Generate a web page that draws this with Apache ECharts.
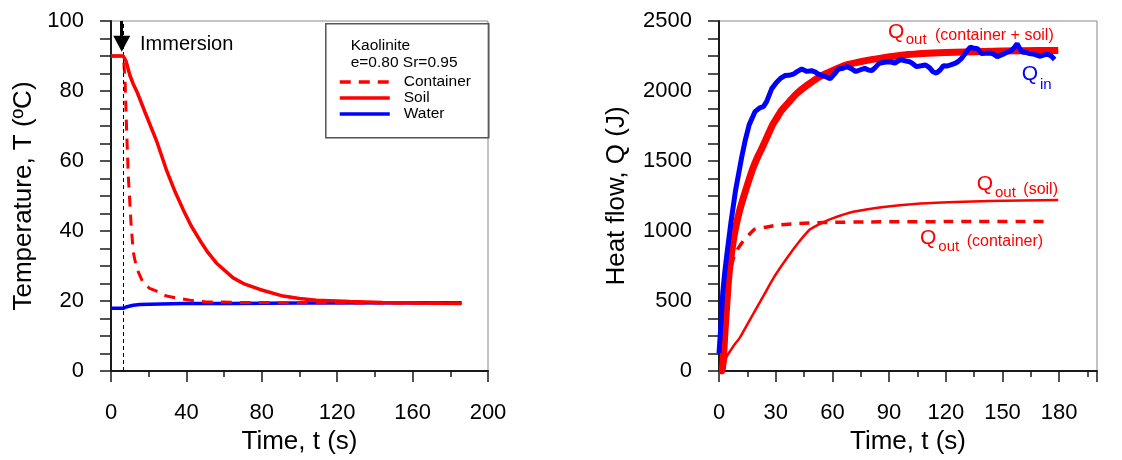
<!DOCTYPE html>
<html>
<head>
<meta charset="utf-8">
<script src="https://cdn.jsdelivr.net/npm/echarts@6/dist/echarts.min.js"></script>
<style>
html,body{margin:0;padding:0;background:#fff;}
#chart{width:1122px;height:460px;}
</style>
</head>
<body>
<div id="chart"></div>
<script>
// ---------- Left panel: temperature vs time ----------
var containerTemp = [[0,90],[6.5,90],[7.4,84],[8.3,68.5],[9.2,55.5],[10.6,42.4],[11.8,34],[13.6,29.4],[17.1,25.1],[20.5,23.6],[24.2,22.8],[29.5,21.4],[36.6,20.7],[41.9,20.2],[50,19.8],[65,19.6],[100,19.5],[140,19.45],[186,19.4]];
var soilTemp = [[0,90],[6.5,90],[8,88.5],[10,84.5],[11.8,82],[14,79.5],[18,74],[24.2,65.7],[29.5,57.3],[34,51.2],[38.3,46.1],[42.5,41.5],[47.2,37.3],[51.5,33.8],[56,30.8],[64.8,26.6],[71,24.8],[79,23.3],[91.3,21.4],[100,20.7],[109,20.2],[126.7,19.85],[144,19.6],[162,19.4],[186,19.3]];
var waterTemp = [[0,17.9],[6.5,17.9],[8,18.3],[11.8,18.8],[15.4,19.0],[20.7,19.1],[38.3,19.3],[63,19.3],[100,19.4],[186,19.5]];
var immersionTime = 6.4;

// ---------- Right panel: heat flow vs time ----------
var qIn = [[0,126],[1,330],[2,560],[3,700],[4.1,826],[6.3,1060],[8.8,1293],[12,1527],[13.8,1643],[16,1760],[19.1,1853],[21.5,1880],[23.5,1888],[25.2,1924],[27.9,2017],[30.5,2063],[32.5,2090],[34.9,2110],[37,2112],[39.3,2120],[41.5,2140],[43.8,2157],[46.5,2140],[49,2145],[51,2135],[52.6,2120],[56,2105],[58.8,2087],[61,2120],[63.2,2157],[65,2160],[67.7,2174],[70,2160],[72.4,2139],[74.5,2150],[77.1,2162],[79,2150],[80.9,2146],[82.5,2165],[84.7,2197],[87.5,2205],[90.4,2209],[93,2200],[96,2225],[98.5,2215],[100.8,2209],[102.5,2195],[104.6,2174],[107,2180],[109.3,2186],[111.5,2165],[113,2140],[115,2127],[117,2150],[118.8,2181],[120.5,2178],[122.6,2186],[124.5,2195],[126.4,2209],[128.5,2235],[130.2,2267],[131.5,2290],[133,2314],[135,2305],[136.8,2302],[138.7,2267],[141,2270],[143.5,2272],[145.5,2262],[147.2,2244],[149,2255],[151,2267],[153,2280],[154.8,2290],[156.5,2315],[157.7,2337],[159,2305],[160.5,2279],[162.5,2275],[164.3,2267],[167,2262],[170,2248],[172,2258],[173.8,2262],[175.8,2250],[177.6,2225]];
var qOutTotal = [[0,0],[1.5,0],[3.3,312],[5.1,661],[6.8,860],[8.6,1010],[10.8,1140],[13,1243],[15.5,1350],[18,1450],[20.5,1530],[23,1600],[25.7,1680],[28.4,1760],[30.7,1810],[33,1860],[36.8,1918],[41,1980],[46.5,2040],[53.5,2104],[60,2145],[67.5,2186],[77,2215],[85,2233],[100,2260],[120,2275],[140,2283],[160,2288],[179.5,2290]];
var qOutSoil = [[0,0],[1.8,0],[4.1,103],[7.5,175],[11.2,242],[15.5,345],[20,453],[24.5,560],[28.8,663],[33,750],[37.6,838],[42.5,925],[48.2,1012],[54,1055],[60,1090],[71,1137],[87,1172],[105,1195],[125,1207],[143,1214],[179.5,1221]];
var qOutContainer = [[0,0],[1.5,0],[3,400],[5.8,708],[8.5,838],[12.8,929],[16,975],[19,1013],[25.4,1029],[32.8,1045],[40,1052],[50,1058],[60,1062],[80,1065],[120,1067],[174.7,1067]];

var FONT = "'Liberation Sans', Arial, sans-serif";
var RED = '#ff0000', BLUE = '#0000ff', AX = '#1a1a1a';

function xAxisCfg(grid, interval, name, extra) {
  var c = {
    gridIndex: grid, type: 'value', min: 0, max: 200, interval: interval,
    name: name, nameLocation: 'middle', nameGap: 58,
    nameTextStyle: {fontSize: 26, color: '#000', fontFamily: FONT},
    axisLine: {show: true, lineStyle: {color: AX, width: 2}},
    axisTick: {show: true, inside: false, length: 11, lineStyle: {color: AX, width: 1.5}},
    minorTick: {show: true, splitNumber: 2, length: 6, lineStyle: {color: AX, width: 1.5}},
    splitLine: {show: false}, minorSplitLine: {show: false},
    axisLabel: {fontSize: 22, color: '#000', margin: 31, fontFamily: FONT}
  };
  if (extra) for (var k in extra) c.axisLabel[k] = extra[k];
  return c;
}
function yAxisCfg(grid, max, interval, labelEvery, name, gap) {
  return {
    gridIndex: grid, type: 'value', min: 0, max: max, interval: interval,
    name: name, nameLocation: 'middle', nameGap: gap,
    nameTextStyle: {fontSize: 26, color: '#000', fontFamily: FONT},
    axisLine: {show: true, lineStyle: {color: AX, width: 2}},
    axisTick: {show: true, inside: false, length: 11, lineStyle: {color: AX, width: 1.5}},
    splitLine: {show: false},
    axisLabel: {fontSize: 22, color: '#000', margin: 27, fontFamily: FONT,
      formatter: function (v) { return (Math.round(v) % labelEvery === 0) ? String(v) : ''; }}
  };
}

var chart = echarts.init(document.getElementById('chart'), null, {renderer: 'canvas'});
var option = {
  animation: false,
  backgroundColor: '#fff',
  textStyle: {fontFamily: FONT},
  grid: [
    {left: 111, top: 21, width: 377, height: 357, show: true, borderColor: '#888', borderWidth: 1, backgroundColor: 'transparent'},
    {left: 719, top: 21, width: 378, height: 357, show: true, borderColor: '#888', borderWidth: 1, backgroundColor: 'transparent'}
  ],
  xAxis: [
    xAxisCfg(0, 40, 'Time, t (s)'),
    xAxisCfg(1, 30, 'Time, t (s)', {showMaxLabel: false})
  ],
  yAxis: [
    yAxisCfg(0, 100, 5, 20, 'Temperature, T (ºC)', 74),
    yAxisCfg(1, 2500, 125, 500, 'Heat flow, Q (J)', 89)
  ],
  legend: {
    left: 338, top: 74, orient: 'vertical', padding: 0,
    itemWidth: 50, itemHeight: 16.5, itemGap: 0,
    data: ['Container', 'Soil', 'Water'],
    itemStyle: {color: 'rgba(0,0,0,0)', borderWidth: 0, opacity: 0},
    lineStyle: {width: 3.5},
    textStyle: {fontSize: 15.5, color: '#000', fontFamily: FONT, lineHeight: 14, padding: [0, 0, 0, 9]},
    selectedMode: false
  },
  graphic: [
    {type: 'rect', left: 323.3, top: 21.3, shape: {width: 163, height: 114}, style: {fill: 'none', stroke: '#555', lineWidth: 1.5}, z: 1},
    {type: 'text', left: 350.7, top: 38, style: {text: 'Kaolinite', fontSize: 15.5, fontFamily: FONT, fill: '#000'}},
    {type: 'text', left: 350.7, top: 55, style: {text: 'e=0.80 Sr=0.95', fontSize: 15.5, fontFamily: FONT, fill: '#000'}},
    {type: 'text', left: 140, top: 34, style: {text: 'Immersion', fontSize: 20, fontFamily: FONT, fill: '#000'}},
    // Q_out (container + soil)
    {type: 'text', left: 888, top: 21.5, style: {text: 'Q', fontSize: 21, fontFamily: FONT, fill: RED}},
    {type: 'text', left: 905.7, top: 32.5, style: {text: 'out', fontSize: 15, fontFamily: FONT, fill: RED}},
    {type: 'text', left: 935, top: 27.5, style: {text: '(container + soil)', fontSize: 16, fontFamily: FONT, fill: RED}},
    // Q_in
    {type: 'text', left: 1021.7, top: 64, style: {text: 'Q', fontSize: 21, fontFamily: FONT, fill: BLUE}},
    {type: 'text', left: 1040, top: 77.5, style: {text: 'in', fontSize: 15, fontFamily: FONT, fill: BLUE}},
    // Q_out (soil)
    {type: 'text', left: 976.7, top: 174, style: {text: 'Q', fontSize: 21, fontFamily: FONT, fill: RED}},
    {type: 'text', left: 995, top: 185.5, style: {text: 'out', fontSize: 15, fontFamily: FONT, fill: RED}},
    {type: 'text', left: 1023.3, top: 182, style: {text: '(soil)', fontSize: 16, fontFamily: FONT, fill: RED}},
    // Q_out (container)
    {type: 'text', left: 920, top: 227.5, style: {text: 'Q', fontSize: 21, fontFamily: FONT, fill: RED}},
    {type: 'text', left: 938.3, top: 239.5, style: {text: 'out', fontSize: 15, fontFamily: FONT, fill: RED}},
    {type: 'text', left: 966.7, top: 233.5, style: {text: '(container)', fontSize: 16, fontFamily: FONT, fill: RED}}
  ],
  series: [
    {name: 'Water', type: 'line', xAxisIndex: 0, yAxisIndex: 0, data: waterTemp, symbol: 'none', showSymbol: false,
      lineStyle: {color: BLUE, width: 3.5}, itemStyle: {color: BLUE}, z: 3,
      markLine: {silent: true, symbol: ['none', 'triangle'], symbolSize: [17, 16], label: {show: false},
        lineStyle: {color: '#000', width: 3, type: 'solid'},
        data: [[{coord: [5.7, 100]}, {coord: [5.7, 93.5]}]]}},
    {name: 'Container', type: 'line', xAxisIndex: 0, yAxisIndex: 0, data: containerTemp, symbol: 'none', showSymbol: false,
      lineStyle: {color: RED, width: 3, type: [11, 8]}, itemStyle: {color: RED}, z: 4,
      markLine: {silent: true, symbol: ['none', 'none'], label: {show: false},
        lineStyle: {color: '#000', width: 1, type: [4, 3]},
        data: [{xAxis: immersionTime}]}},
    {name: 'Soil', type: 'line', xAxisIndex: 0, yAxisIndex: 0, data: soilTemp, symbol: 'none', showSymbol: false,
      lineStyle: {color: RED, width: 3.5}, itemStyle: {color: RED}, z: 5},

    {name: 'Qout soil', type: 'line', xAxisIndex: 1, yAxisIndex: 1, data: qOutSoil, symbol: 'none', showSymbol: false,
      smooth: 0.2, lineStyle: {color: RED, width: 2.5}, z: 3},
    {name: 'Qout container', type: 'line', xAxisIndex: 1, yAxisIndex: 1, data: qOutContainer, symbol: 'none', showSymbol: false,
      smooth: 0.2, lineStyle: {color: RED, width: 3.5, type: [10, 8]}, z: 3},
    {name: 'Qout total', type: 'line', xAxisIndex: 1, yAxisIndex: 1, data: qOutTotal, symbol: 'none', showSymbol: false,
      smooth: 0.2, lineStyle: {color: RED, width: 7}, z: 4},
    {name: 'Qin', type: 'line', xAxisIndex: 1, yAxisIndex: 1, data: qIn, symbol: 'none', showSymbol: false,
      lineStyle: {color: BLUE, width: 5}, z: 5}
  ]
};
chart.setOption(option);
</script>
</body>
</html>
